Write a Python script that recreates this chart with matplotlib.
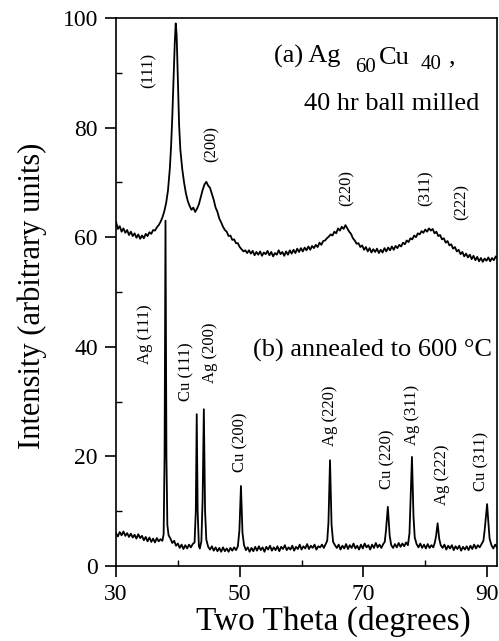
import matplotlib.pyplot as plt
from matplotlib.ticker import FixedLocator

plt.rcParams['font.family'] = ['Liberation Serif', 'DejaVu Serif']

# (a) Ag60Cu40, 40 hr ball milled
theta_a = [30.0, 30.3, 30.6, 30.9, 31.2, 31.5, 31.8, 32.1, 32.4, 32.7, 33.0, 33.3, 33.6, 33.9,
           34.2, 34.5, 34.8, 35.1, 35.4, 35.7, 36.0, 36.3, 36.6, 36.9, 37.2, 37.5, 37.8, 38.1,
           38.4, 38.7, 38.9, 39.1, 39.3, 39.5, 39.65, 39.8, 40.0, 40.2, 40.4, 40.7, 41.0, 41.3,
           41.6, 41.9, 42.2, 42.5, 42.8, 43.1, 43.4, 43.7, 44.0, 44.3, 44.6, 44.9, 45.2, 45.5,
           45.8, 46.1, 46.4, 46.7, 47.0, 47.3, 47.6, 47.9, 48.2, 48.5, 48.8, 49.1, 49.4, 49.7,
           50.0, 50.3, 50.6, 50.9, 51.2, 51.5, 51.8, 52.1, 52.4, 52.7, 53.0, 53.3, 53.6, 53.9,
           54.2, 54.5, 54.8, 55.1, 55.4, 55.7, 56.0, 56.3, 56.6, 56.9, 57.2, 57.5, 57.8, 58.1,
           58.4, 58.7, 59.0, 59.3, 59.6, 59.9, 60.2, 60.5, 60.8, 61.1, 61.4, 61.7, 62.0, 62.3,
           62.6, 62.9, 63.2, 63.5, 63.8, 64.1, 64.4, 64.7, 65.0, 65.3, 65.6, 65.9, 66.2, 66.5,
           66.8, 67.1, 67.4, 67.7, 68.0, 68.3, 68.6, 68.9, 69.2, 69.5, 69.8, 70.1, 70.4, 70.7,
           71.0, 71.3, 71.6, 71.9, 72.2, 72.5, 72.8, 73.1, 73.4, 73.7, 74.0, 74.3, 74.6, 74.9,
           75.2, 75.5, 75.8, 76.1, 76.4, 76.7, 77.0, 77.3, 77.6, 77.9, 78.2, 78.5, 78.8, 79.1,
           79.4, 79.7, 80.0, 80.3, 80.6, 80.9, 81.2, 81.5, 81.8, 82.1, 82.4, 82.7, 83.0, 83.3,
           83.6, 83.9, 84.2, 84.5, 84.8, 85.1, 85.4, 85.7, 86.0, 86.3, 86.6, 86.9, 87.2, 87.5,
           87.8, 88.1, 88.4, 88.7, 89.0, 89.3, 89.6, 89.9, 90.2, 90.5, 90.8, 91.1, 91.4, 91.7]
int_a = [62.8, 61.5, 62.0, 61.0, 61.6, 60.8, 61.3, 60.4, 61.0, 60.2, 60.7, 59.9, 60.5, 59.7,
         60.3, 59.8, 60.6, 60.2, 60.9, 60.6, 61.3, 61.2, 61.8, 62.2, 62.8, 63.6, 64.7, 66.2,
         68.5, 72.5, 76.5, 82.0, 88.5, 95.5, 99.0, 97.0, 88.5, 80.5, 76.0, 72.5, 70.0, 68.0,
         66.6, 65.7, 65.0, 65.4, 64.6, 65.2, 66.0, 67.3, 68.6, 69.6, 70.1, 69.4, 69.0, 67.9,
         66.8, 65.4, 64.6, 63.4, 62.7, 61.9, 61.3, 61.0, 60.2, 60.3, 59.5, 59.6, 58.9, 58.9,
         58.2, 57.8, 57.4, 57.6, 57.1, 57.6, 57.0, 57.5, 56.7, 57.3, 56.8, 57.4, 56.6, 57.2,
         56.9, 57.5, 56.7, 57.3, 56.5, 57.1, 56.8, 57.6, 56.9, 57.3, 56.6, 57.4, 56.8, 57.6,
         57.0, 57.7, 57.1, 57.9, 57.3, 58.0, 57.4, 58.1, 57.6, 58.3, 57.7, 58.4, 58.0, 58.6,
         58.2, 59.0, 58.6, 59.3, 59.4, 59.8, 60.1, 60.5, 60.3, 61.0, 60.7, 61.6, 61.2, 61.9,
         61.5, 62.2, 61.6, 61.0, 60.6, 59.8, 59.4, 58.8, 58.9, 58.2, 58.5, 57.7, 58.2, 57.4,
         58.0, 57.2, 57.8, 57.3, 57.9, 57.1, 57.7, 57.2, 58.0, 57.4, 58.1, 57.6, 58.3, 57.7,
         58.4, 58.0, 58.6, 58.3, 59.0, 58.7, 59.4, 59.1, 59.8, 59.6, 60.3, 60.0, 60.7, 60.5,
         61.1, 60.8, 61.4, 61.0, 61.6, 61.2, 61.5, 60.7, 61.0, 60.2, 60.4, 59.6, 59.8, 59.0,
         59.3, 58.5, 58.7, 57.9, 58.2, 57.4, 57.7, 56.9, 57.3, 56.5, 57.0, 56.3, 56.8, 56.0,
         56.6, 55.8, 56.4, 55.6, 56.2, 55.5, 56.1, 55.7, 56.3, 55.6, 56.2, 55.8, 56.5, 56.2]

# (b) annealed to 600 C
theta_b = [30.0, 30.3, 30.6, 30.9, 31.2, 31.5, 31.8, 32.1, 32.4, 32.7, 33.0, 33.3, 33.6, 33.9,
           34.2, 34.5, 34.8, 35.1, 35.4, 35.7, 36.0, 36.3, 36.6, 36.9, 37.2, 37.5, 37.7, 37.85,
           38.0, 38.15, 38.3, 38.5, 38.8, 39.1, 39.4, 39.7, 40.0, 40.3, 40.6, 40.9, 41.2, 41.5,
           41.8, 42.1, 42.4, 42.7, 42.9, 43.05, 43.2, 43.4, 43.55, 43.8, 44.0, 44.2, 44.4, 44.6,
           44.9, 45.2, 45.5, 45.8, 46.1, 46.4, 46.7, 47.0, 47.3, 47.6, 47.9, 48.2, 48.5, 48.8,
           49.1, 49.4, 49.7, 49.95, 50.2, 50.45, 50.7, 51.0, 51.3, 51.6, 51.9, 52.2, 52.5, 52.8,
           53.1, 53.4, 53.7, 54.0, 54.3, 54.6, 54.9, 55.2, 55.5, 55.8, 56.1, 56.4, 56.7, 57.0,
           57.3, 57.6, 57.9, 58.2, 58.5, 58.8, 59.1, 59.4, 59.7, 60.0, 60.3, 60.6, 60.9, 61.2,
           61.5, 61.8, 62.1, 62.4, 62.7, 63.0, 63.3, 63.6, 63.9, 64.15, 64.35, 64.6, 64.85, 65.1,
           65.4, 65.7, 66.0, 66.3, 66.6, 66.9, 67.2, 67.5, 67.8, 68.1, 68.4, 68.7, 69.0, 69.3,
           69.6, 69.9, 70.2, 70.5, 70.8, 71.1, 71.4, 71.7, 72.0, 72.3, 72.6, 72.9, 73.2, 73.45,
           73.65, 73.95, 74.25, 74.5, 74.8, 75.1, 75.4, 75.7, 76.0, 76.3, 76.6, 76.9, 77.2, 77.45,
           77.6, 77.85, 78.1, 78.3, 78.6, 78.9, 79.2, 79.5, 79.8, 80.1, 80.4, 80.7, 81.0, 81.3,
           81.55, 81.75, 82.0, 82.25, 82.5, 82.8, 83.1, 83.4, 83.7, 84.0, 84.3, 84.6, 84.9, 85.2,
           85.5, 85.8, 86.1, 86.4, 86.7, 87.0, 87.3, 87.6, 87.9, 88.2, 88.5, 88.8, 89.1, 89.4,
           89.6, 89.8, 90.0, 90.2, 90.4, 90.7, 91.0, 91.3, 91.6, 91.8]
int_b = [6.0, 5.4, 6.2, 5.6, 6.3, 5.5, 6.0, 5.3, 5.9, 5.2, 5.7, 5.0, 5.8, 5.1,
         5.5, 4.7, 5.3, 4.5, 5.2, 4.4, 5.0, 4.3, 5.1, 4.5, 4.9, 4.6, 5.8, 20.0,
         63.0, 20.0, 7.5, 5.6, 5.0, 4.2, 4.6, 3.7, 4.1, 3.3, 3.9, 3.1, 3.8, 3.2,
         3.9, 3.4, 4.0, 4.3, 10.0, 27.7, 10.0, 3.6, 3.2, 4.5, 12.0, 28.6, 10.0, 4.8,
         3.5, 3.0, 3.6, 2.8, 3.4, 2.7, 3.3, 2.6, 3.4, 2.7, 3.2, 2.6, 3.3, 2.8,
         3.4, 2.9, 3.6, 6.5, 14.6, 6.0, 3.8, 2.9, 3.4, 2.6, 3.3, 2.7, 3.5, 2.8,
         3.6, 2.9, 3.4, 2.6, 3.5, 3.0, 3.7, 2.8, 3.4, 2.9, 3.6, 2.7, 3.5, 3.1,
         3.8, 2.9, 3.4, 3.0, 3.7, 2.8, 3.5, 3.1, 3.9, 3.0, 3.6, 3.2, 4.0, 3.1,
         3.7, 3.3, 3.9, 3.0, 3.6, 3.4, 3.9, 3.3, 4.0, 4.6, 8.0, 19.3, 7.5, 4.4,
         3.8, 3.3, 3.9, 3.0, 3.7, 3.2, 4.0, 3.1, 3.8, 3.3, 4.1, 3.2, 3.7, 3.0,
         3.9, 3.2, 4.1, 3.4, 3.8, 3.0, 3.9, 3.3, 4.2, 3.4, 3.9, 3.3, 4.0, 4.4,
         6.5, 10.8, 5.5, 3.8, 3.3, 4.0, 3.4, 4.2, 3.5, 4.1, 3.6, 4.3, 3.8, 6.0,
         11.0, 19.9, 9.0, 5.2, 4.0, 3.4, 4.1, 3.3, 3.9, 3.2, 4.0, 3.3, 3.8, 3.4,
         4.3, 5.5, 7.8, 5.0, 3.8, 3.3, 3.9, 3.0, 3.7, 3.2, 3.8, 2.9, 3.6, 3.1,
         3.7, 2.8, 3.5, 3.0, 3.6, 2.9, 3.7, 3.1, 3.9, 3.2, 3.8, 3.4, 4.0, 4.6,
         6.5, 9.0, 11.3, 8.0, 5.0, 3.8, 3.2, 3.9, 3.4, 3.6]

labels_a = ['(111)', '(200)', '(220)', '(311)', '(222)']
labels_a_x = [35.2, 45.5, 67.3, 80.0, 85.9]
labels_a_y = [90.5, 77.0, 69.0, 69.0, 66.4]

labels_b = ['Ag (111)', 'Cu (111)', 'Ag (200)', 'Cu (200)', 'Ag (220)',
            'Cu (220)', 'Ag (311)', 'Ag (222)', 'Cu (311)']
labels_b_x = [34.7, 41.4, 45.2, 50.05, 64.6, 73.8, 77.9, 82.7, 89.1]
labels_b_y = [42.3, 35.5, 38.9, 22.5, 27.4, 19.5, 27.5, 16.6, 19.0]

xticks_major = [30, 50, 70, 90]
xticks_minor = [40, 60, 80]
yticks_major = [0, 20, 40, 60, 80, 100]
yticks_minor = [10, 30, 50, 70, 90]

fig = plt.figure(figsize=(4.99, 6.41), dpi=100)
ax = fig.add_axes([0.2325, 0.117, 0.7635, 0.855])

ax.plot(theta_a, int_a, color='black', lw=1.3)
ax.plot(theta_b, int_b, color='black', lw=1.3)

for t, x, y in zip(labels_a, labels_a_x, labels_a_y):
    ax.text(x, y, t, rotation=90, ha='center', va='center', fontsize=12)
for t, x, y in zip(labels_b, labels_b_x, labels_b_y):
    ax.text(x, y, t, rotation=90, ha='center', va='center', fontsize=12)

# "(a) Ag60 Cu40 ," built piece by piece so the subscripts sit low like the original
t1 = ax.text(55.5, 91.8, '(a) Ag', fontsize=19)
t2 = ax.annotate('60', xy=(1, 0), xycoords=t1, xytext=(15, -4),
                 textcoords='offset pixels', fontsize=15, va='baseline')
t3 = ax.annotate('Cu', xy=(1, 0), xycoords=(t2, t1), xytext=(3, 4),
                 textcoords='offset pixels', fontsize=19, va='baseline')
t4 = ax.annotate('40', xy=(1, 0), xycoords=(t3, t1), xytext=(11, -1),
                 textcoords='offset pixels', fontsize=15, va='baseline')
ax.annotate(',', xy=(1, 0), xycoords=(t4, t1), xytext=(7, 5),
            textcoords='offset pixels', fontsize=19, va='baseline')
ax.text(60.4, 83.2, '40 hr ball milled', fontsize=19)
ax.text(52.1, 38.2, '(b) annealed to 600 °C', fontsize=19)

ax.set_xlim(30, 91.6)
ax.set_ylim(0, 100)
ax.xaxis.set_major_locator(FixedLocator(xticks_major))
ax.xaxis.set_minor_locator(FixedLocator(xticks_minor))
ax.yaxis.set_major_locator(FixedLocator(yticks_major))
ax.yaxis.set_minor_locator(FixedLocator(yticks_minor))
ax.tick_params(which='major', direction='out', length=8, width=1.2, labelsize=17, pad=5)
ax.tick_params(which='minor', direction='in', length=4, width=1)
for s in ax.spines.values():
    s.set_linewidth(1.2)

ax.set_xlabel('Two Theta (degrees)', fontsize=24)
ax.set_ylabel('Intensity (arbitrary units)', fontsize=22)
ax.xaxis.set_label_coords(0.571, -0.072)
ax.yaxis.set_label_coords(-0.18, 0.493)

fig.savefig('out.png', dpi=100)
